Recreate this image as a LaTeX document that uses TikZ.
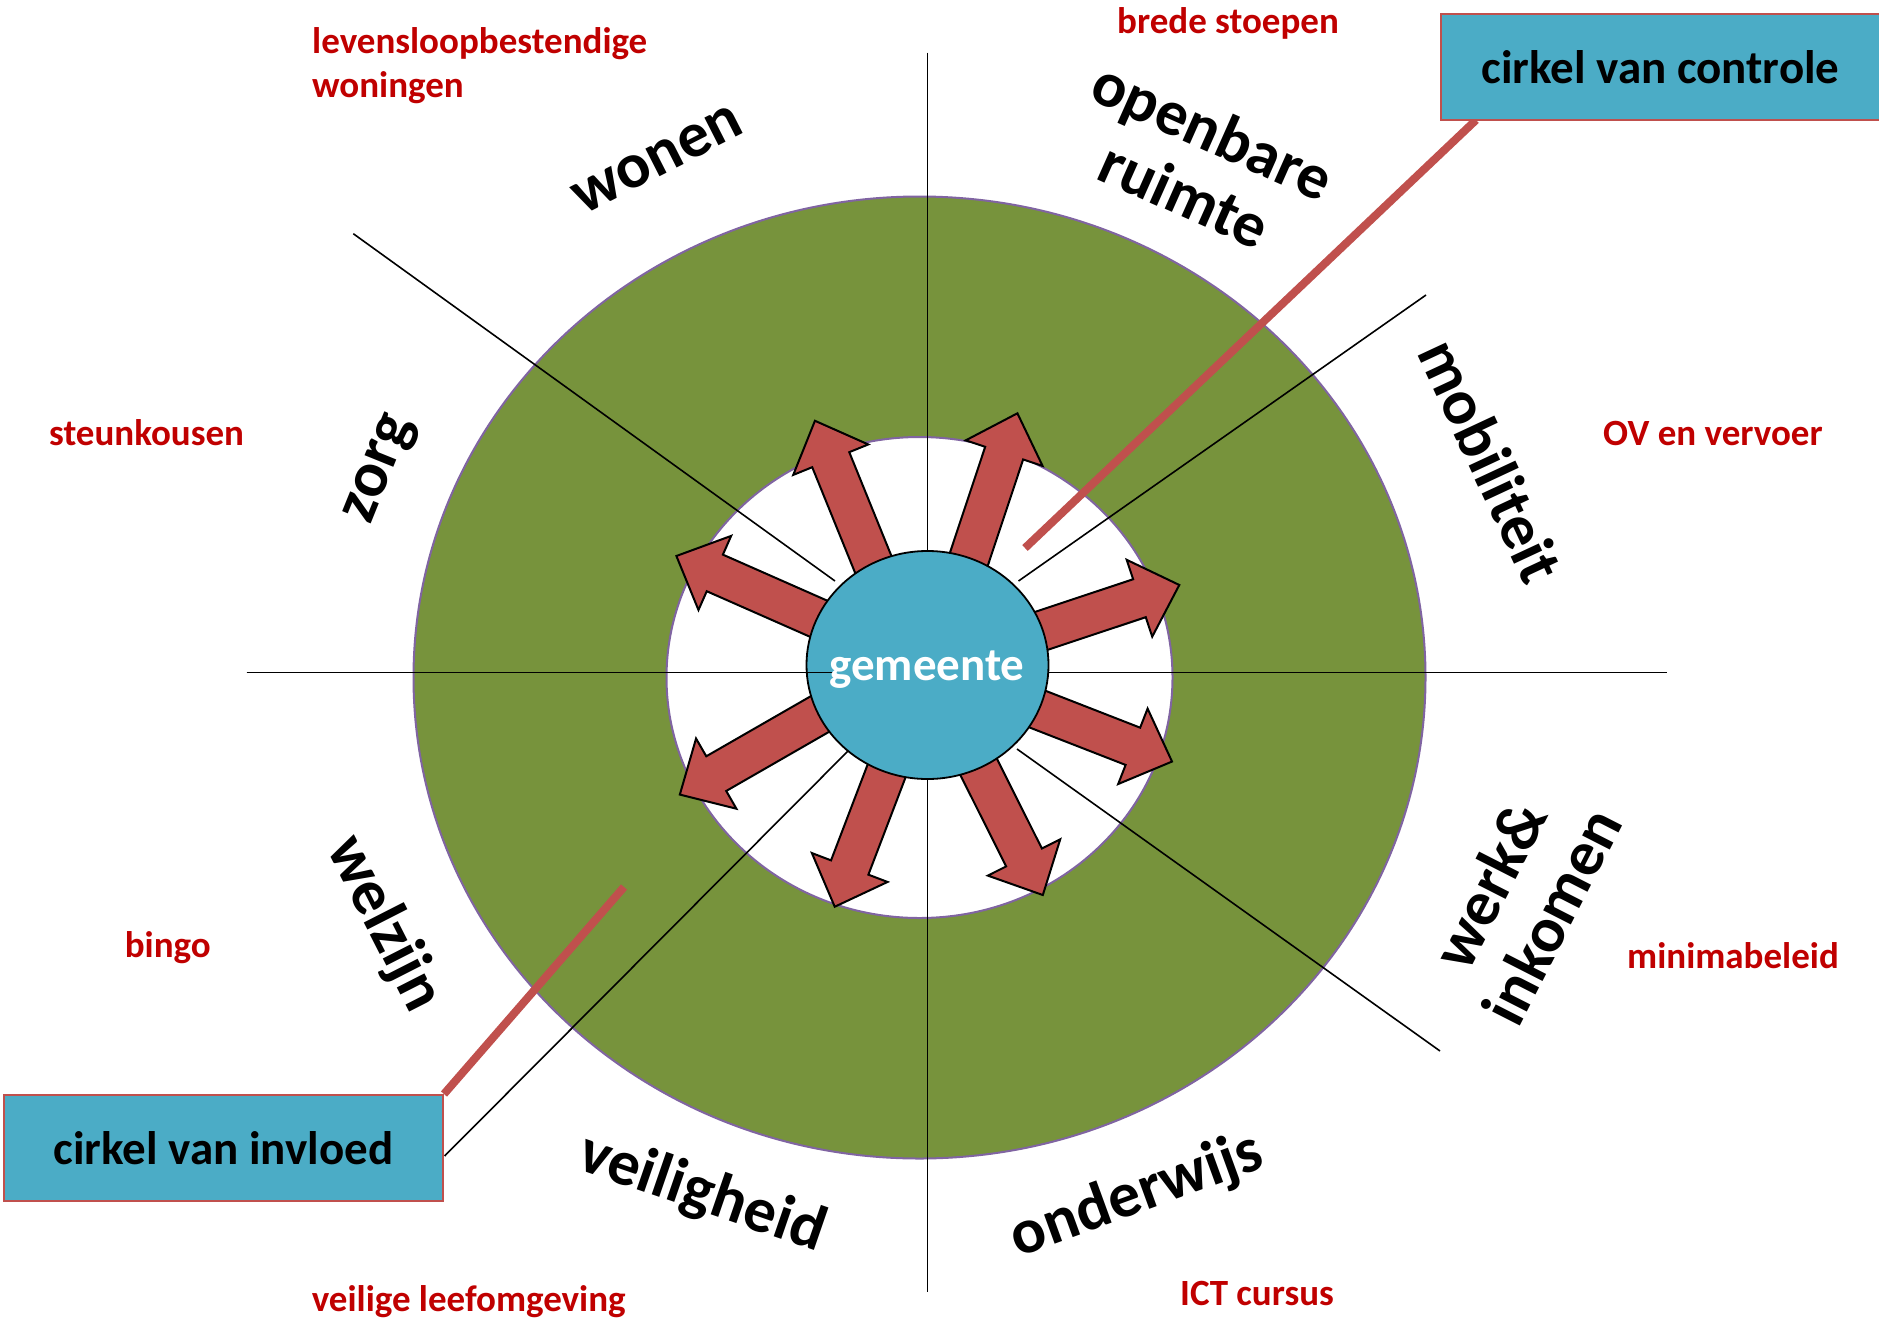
\documentclass[tikz,border=0pt]{standalone}
\usepackage{fontspec}
\setmainfont{Carlito}
\usetikzlibrary{shapes.geometric}
\definecolor{grn}{HTML}{77933C}
\definecolor{ppl}{HTML}{8064A2}
\definecolor{blu}{HTML}{4BACC6}
\definecolor{rdl}{HTML}{C0504D}
\definecolor{rtx}{HTML}{C00000}
\tikzset{
  cat/.style={font=\fontsize{64}{70}\selectfont\bfseries, align=center, inner sep=0pt},
  redlab/.style={font=\fontsize{37}{42}\selectfont\bfseries, text=rtx, anchor=base west, inner sep=0pt},
  box/.style={draw=rdl, line width=2.5pt, fill=blu, minimum width=439pt, minimum height=106pt, inner sep=0pt, font=\fontsize{47}{56}\selectfont\bfseries},
  thinline/.style={line width=1.6pt, black},
  conn/.style={line width=8pt, rdl},
  arr/.style={fill=rdl, draw=black, line width=2pt, line join=miter},
}
\newcommand\radarrow[4]{%
  \begin{scope}[shift={(#1,#2)}, rotate=#3]
    \draw[arr] (-8,-20) -- ({#4-42},-20) -- ({#4-42},-40.5) -- (#4,0) -- ({#4-42},40.5) -- ({#4-42},20) -- (-8,20) -- cycle;
  \end{scope}}
\begin{document}
\begin{tikzpicture}[x=1pt,y=-1pt]
\useasboundingbox (0,0) rectangle (1879,1320);
\fill[white] (0,0) rectangle (1879,1320);
% rings
\draw[fill=grn, draw=ppl, line width=2pt] (919.5,677.5) ellipse [x radius=506, y radius=481];
\draw[fill=white, draw=ppl, line width=2pt] (919.5,677.5) ellipse [x radius=253, y radius=240.5];
% coordinates for lines
\coordinate (vT) at (927.3,52.7);
\coordinate (vB) at (927.3,1292.3);
\coordinate (hL) at (246.7,672.3);
\coordinate (hR) at (1667.3,672.3);
\coordinate (hLi) at (833,672.3);
\coordinate (ulO) at (353.3,233.7);
\coordinate (ulI) at (835,581);
\coordinate (urO) at (1426,295);
\coordinate (urI) at (1018.5,581);
\coordinate (lrI) at (1017,749);
\coordinate (lrO) at (1440,1051);
\coordinate (llI) at (848,751);
\coordinate (llO) at (444.6,1156);
\draw[thinline] (vT) -- (vB);
\draw[thinline] (hL) -- (hR);
\draw[thinline] (ulO) -- (ulI);
\draw[thinline] (urO) -- (urI);
\draw[thinline] (lrI) -- (lrO);
\draw[thinline] (llI) -- (llO);
% arrows
\radarrow{871.6}{560.3}{112.1}{150.6}
\radarrow{970}{555.8}{71.6}{150.2}
\radarrow{1036.4}{632.5}{18.4}{150.6}
\radarrow{1029}{705.8}{-21.3}{153.5}
\radarrow{974.8}{759.2}{-63.4}{151.9}
\radarrow{888.2}{766.7}{-110.9}{149.9}
\radarrow{816.8}{715.8}{-150.1}{158}
\radarrow{820.4}{619.5}{156.2}{157.4}
% centre
\node[ellipse, fill=blu, draw=black, line width=1.8pt, minimum width=242pt, minimum height=228pt, inner sep=0pt] (gem) at (927.5,665) {};
\draw[thinline] (hL) -- (hLi);
\node[anchor=base, text=white, font=\fontsize{47}{56}\selectfont\bfseries, inner sep=0pt] (gemtxt) at (927,680) {gemeente};
% red connectors
\coordinate (c1) at (1476,120);
\coordinate (c2) at (1025,548);
\coordinate (d1) at (444,1094);
\coordinate (d2) at (624,887);
\draw[conn] (c1) -- (c2);
\draw[conn] (d1) -- (d2);
% boxes
\node[box] (ctrl) at (1660.5,67) {cirkel van controle};
\node[box] (infl) at (223.5,1148) {cirkel van invloed};
% category labels
\node[cat, rotate=27] (wonen) at (658,160) {wonen};
\node[cat, rotate=-24] (openbaar) at (1199,162) {openbare\\ruimte};
\node[cat, rotate=68] (zorg) at (382,470) {zorg};
\node[cat, rotate=-65] (mobiliteit) at (1491,461) {mobiliteit};
\node[cat, rotate=63] (werk) at (1520,900) {werk\&\\inkomen};
\node[cat, rotate=-63] (welzijn) at (384,924) {welzijn};
\node[cat, rotate=-19] (veiligheid) at (702,1194) {veiligheid};
\node[cat, rotate=20] (onderwijs) at (1137,1196) {onderwijs};
% red labels
\node[redlab] (lev1) at (312,53.3) {levensloopbestendige};
\node[redlab] (lev2) at (312,97) {woningen};
\node[redlab] (brede) at (1117,33) {brede stoepen};
\node[redlab] (steun) at (49,445) {steunkousen};
\node[redlab] (ov) at (1603,445) {OV en vervoer};
\node[redlab] (bingo) at (124.6,957) {bingo};
\node[redlab] (mini) at (1627,968) {minimabeleid};
\node[redlab] (veilig) at (311.6,1311) {veilige leefomgeving};
\node[redlab] (ict) at (1180,1305) {ICT cursus};
\end{tikzpicture}
\end{document}
